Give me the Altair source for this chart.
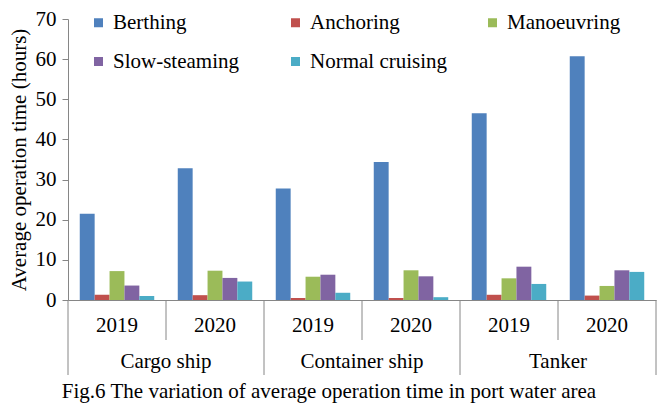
import altair as alt
import pandas as pd

ship_types = ["Cargo ship", "Container ship", "Tanker"]
years = ["2019", "2020"]
operations = ["Berthing", "Anchoring", "Manoeuvring", "Slow-steaming", "Normal cruising"]
colors = ["#4F81BD", "#C0504D", "#9BBB59", "#8064A2", "#4BACC6"]

# values per slot: Cargo 2019, Cargo 2020, Container 2019, Container 2020, Tanker 2019, Tanker 2020
berthing = [21.5, 32.8, 27.8, 34.4, 46.5, 60.7]
anchoring = [1.3, 1.2, 0.5, 0.5, 1.3, 1.1]
manoeuvring = [7.2, 7.3, 5.8, 7.4, 5.4, 3.5]
slow_steaming = [3.6, 5.5, 6.3, 5.9, 8.3, 7.4]
normal_cruising = [1.0, 4.6, 1.8, 0.7, 4.0, 7.0]

y_ticks = [0, 10, 20, 30, 40, 50, 60, 70]
y_title = "Average operation time (hours)"
caption = "Fig.6 The variation of average operation time in port water area"

FONT = "Liberation Serif"
GRAY = "#868686"
W, H = 588, 281

slots = [f"{s} {y}" for s in ship_types for y in years]
slot_years = [y for s in ship_types for y in years]
series = [berthing, anchoring, manoeuvring, slow_steaming, normal_cruising]

rows = []
for op, vals in zip(operations, series):
    for slot, v in zip(slots, vals):
        rows.append({"slot": slot, "operation": op, "value": v})
df = pd.DataFrame(rows)

slot_df = pd.DataFrame({"slot": slots, "year": slot_years})
ship_df = pd.DataFrame({"ship": ship_types})
short_sep = pd.DataFrame({"b": [1, 3, 5]})
long_sep = pd.DataFrame({"b": [0, 2, 4, 6]})
cap_df = pd.DataFrame({"t": [caption]})

slot_scale = alt.Scale(domain=slots, paddingInner=0.24, paddingOuter=0.12)

bars = alt.Chart(df).mark_bar().encode(
    x=alt.X("slot:N", sort=slots, scale=slot_scale,
            axis=alt.Axis(labels=False, ticks=False, title=None,
                          domainColor=GRAY, domainWidth=1)),
    xOffset=alt.XOffset("operation:N", sort=operations,
                        scale=alt.Scale(domain=operations, paddingInner=0, paddingOuter=0)),
    y=alt.Y("value:Q", scale=alt.Scale(domain=[0, 70], nice=False),
            axis=alt.Axis(values=y_ticks, grid=False, domainColor=GRAY, tickColor=GRAY,
                          tickSize=6, labelFont=FONT, labelFontSize=21, labelColor="black",
                          labelPadding=6, title=y_title, titleFont=FONT, titleFontSize=21,
                          titleFontWeight="normal", titleColor="black", titleX=-49,
                          titleY=H / 2, titleAngle=270, titleBaseline="middle",
                          titleAlign="center")),
    color=alt.Color("operation:N", sort=operations,
                    scale=alt.Scale(domain=operations, range=colors),
                    legend=alt.Legend(title=None, orient="none", legendX=20, legendY=-7,
                                      direction="horizontal", columns=3, gridAlign="all",
                                      columnPadding=34, rowPadding=17, symbolType="square",
                                      symbolSize=81, symbolStrokeWidth=0, labelFont=FONT,
                                      labelFontSize=21, labelOffset=4, labelColor="black",
                                      labelLimit=0)),
)

year_text = alt.Chart(slot_df).mark_text(font=FONT, fontSize=21, baseline="middle",
                                         color="black").encode(
    x=alt.X("slot:N", sort=slots, scale=slot_scale, axis=None),
    y=alt.value(H + 26),
    text="year:N",
)

ship_text = alt.Chart(ship_df).mark_text(font=FONT, fontSize=21, baseline="middle",
                                         color="black").encode(
    x=alt.X("ship:N", sort=ship_types,
            scale=alt.Scale(domain=ship_types, paddingInner=0, paddingOuter=0), axis=None),
    y=alt.value(H + 62),
    text="ship:N",
)

sep_scale = alt.Scale(domain=[0, 6], nice=False, zero=False)
short_rules = alt.Chart(short_sep).mark_rule(color=GRAY, strokeWidth=1).encode(
    x=alt.X("b:Q", scale=sep_scale, axis=None),
    y=alt.value(H), y2=alt.value(H + 40),
)
long_rules = alt.Chart(long_sep).mark_rule(color=GRAY, strokeWidth=1).encode(
    x=alt.X("b:Q", scale=sep_scale, axis=None),
    y=alt.value(H), y2=alt.value(H + 75),
)

cap_text = alt.Chart(cap_df).mark_text(font=FONT, fontSize=21, baseline="middle",
                                       color="black").encode(
    x=alt.value(261), y=alt.value(H + 92), text="t:N",
)

chart = alt.layer(bars, year_text, ship_text, short_rules, long_rules, cap_text).resolve_scale(
    x="independent"
).properties(
    width=W, height=H,
    padding={"left": 60, "top": 11, "right": 3, "bottom": 105},
    autosize=alt.AutoSizeParams(type="none"),
    background="white",
).configure_view(stroke=None)

chart.save("out.html", embed_options={"renderer": "svg", "actions": False})
